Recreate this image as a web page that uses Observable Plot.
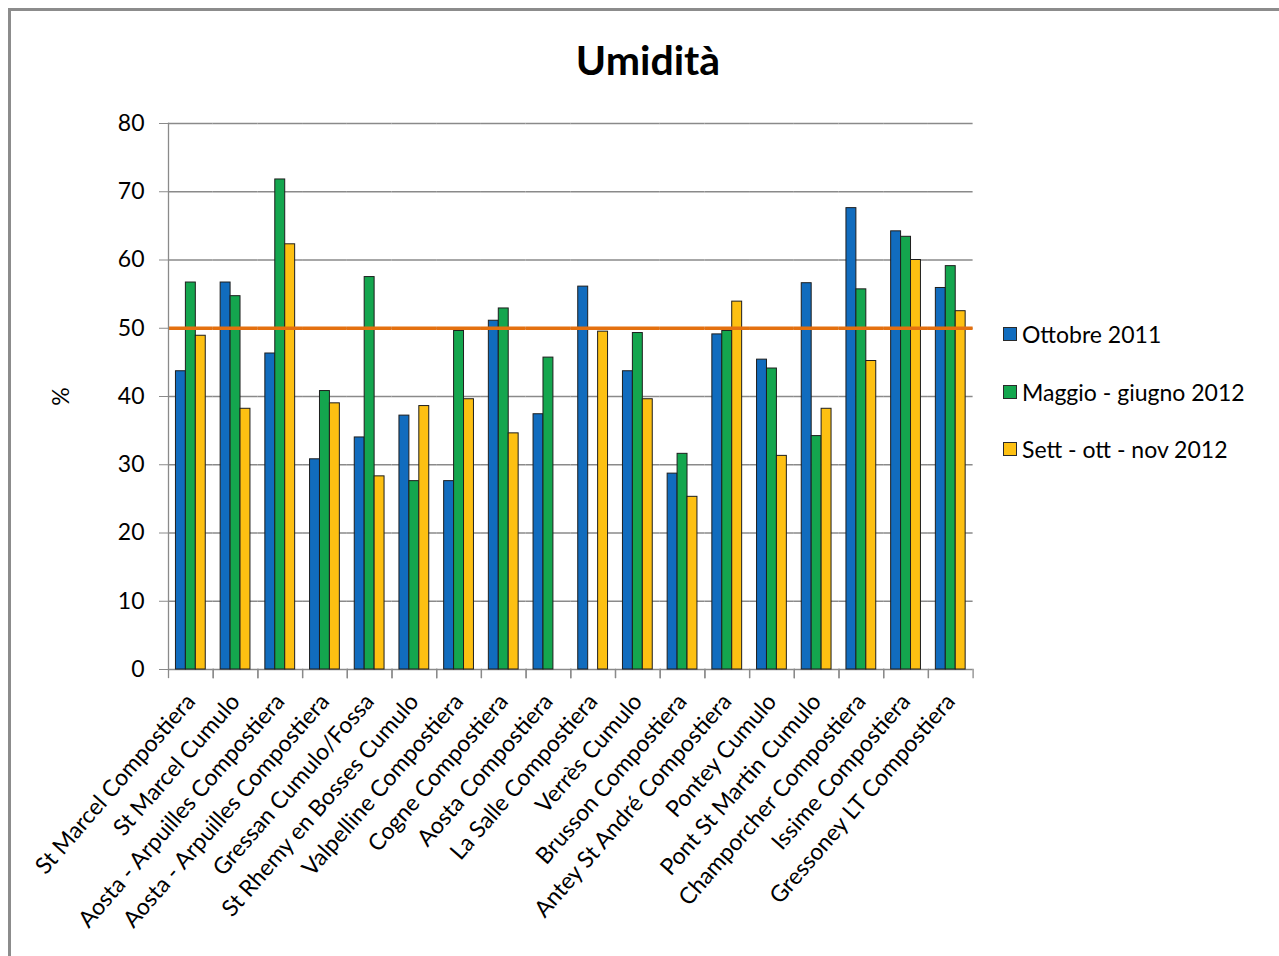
<!DOCTYPE html>
<html>
<head>
<meta charset="utf-8">
<script src="https://cdn.jsdelivr.net/npm/d3@7"></script>
<script src="https://cdn.jsdelivr.net/npm/@observablehq/plot@0.6"></script>
<style>
  html, body { margin: 0; padding: 0; overflow: hidden; background: #fff; }
  #page { position: relative; width: 1279px; height: 956px; overflow: hidden; font-family: Lato, "Open Sans", sans-serif; color: #000; }
  #border { position: absolute; left: 8px; top: 8px; width: 2000px; height: 2000px; border-left: 3px solid #8c8c8c; border-top: 3px solid #8c8c8c; }
  #title { position: absolute; left: 448px; width: 400px; top: 36px; text-align: center; font-weight: 700; font-size: 41px; line-height: 48px; }
  #chart { position: absolute; left: 0; top: 100px; }
  .item { position: absolute; left: 1003px; display: flex; align-items: center; font-size: 23px; line-height: 28px; white-space: nowrap; }
  .sw { width: 14px; height: 14px; border: 1px solid #2a2a2a; box-sizing: border-box; margin-right: 5px; }
</style>
</head>
<body>
<div id="page">
  <div id="border"></div>
  <div id="title">Umidità</div>
  <div id="chart"></div>
  <div id="legend"></div>
</div>
<script>
const categories = [
  "St Marcel Compostiera",
  "St Marcel Cumulo",
  "Aosta - Arpuilles Compostiera",
  "Aosta - Arpuilles Compostiera ",
  "Gressan Cumulo/Fossa",
  "St Rhemy en Bosses Cumulo",
  "Valpelline Compostiera",
  "Cogne Compostiera",
  "Aosta Compostiera",
  "La Salle Compostiera",
  "Verrès Cumulo",
  "Brusson Compostiera",
  "Antey St André Compostiera",
  "Pontey Cumulo",
  "Pont St Martin Cumulo",
  "Champorcher Compostiera",
  "Issime Compostiera",
  "Gressoney LT Compostiera"
];
const series = ["Ottobre 2011", "Maggio - giugno 2012", "Sett - ott - nov 2012"];
const ottobre2011      = [43.7, 56.7, 46.3, 30.8, 34.0, 37.2, 27.6, 51.1, 37.4, 56.1, 43.7, 28.7, 49.1, 45.4, 56.6, 67.6, 64.2, 55.9];
const maggioGiugno2012 = [56.7, 54.7, 71.8, 40.8, 57.5, 27.6, 49.6, 52.9, 45.7, null, 49.3, 31.6, 49.6, 44.1, 34.2, 55.7, 63.4, 59.1];
const settOttNov2012   = [48.9, 38.2, 62.3, 39.0, 28.3, 38.6, 39.6, 34.6, null, 49.5, 39.6, 25.3, 53.9, 31.3, 38.2, 45.2, 60.0, 52.5];
const yTicks = [0, 10, 20, 30, 40, 50, 60, 70, 80];
const threshold = 50;
const colors = ["#116CBE", "#14A64E", "#FDC012"];

const seriesValues = [ottobre2011, maggioGiugno2012, settOttNov2012];
const rows = [];
categories.forEach((c, i) => {
  series.forEach((s, k) => rows.push({category: c, series: s, value: seriesValues[k][i]}));
});

const GRID = "#8a8a8a";
const W = 1279, H = 856, mt = 23, mb = 287, ml = 168, mr = 306.4;
const plotH = H - mt - mb;

const chart = Plot.plot({
  width: W,
  height: H,
  marginTop: mt,
  marginBottom: mb,
  marginLeft: ml,
  marginRight: mr,
  style: {fontFamily: "Lato, 'Open Sans', sans-serif", color: "#000", background: "transparent", overflow: "visible"},
  fx: {domain: categories, padding: 0, round: false, label: null},
  x: {domain: series, paddingInner: 0, paddingOuter: 0.75, round: false, axis: null},
  y: {domain: [0, 80]},
  color: {domain: series, range: colors},
  marks: [
    Plot.ruleY(yTicks, {stroke: GRID, strokeWidth: 1.3}),
    Plot.barY(rows, {fx: "category", x: "series", y: "value", fill: "series", stroke: "#1e1e1e", strokeWidth: 1}),
    Plot.ruleY([threshold], {stroke: "#E4700F", strokeWidth: 3.5}),
    Plot.frame({anchor: "left", facet: "super", stroke: GRID, strokeWidth: 1.3}),
    Plot.frame({anchor: "left", insetTop: plotH, insetBottom: -8, stroke: GRID, strokeWidth: 1.3}),
    Plot.frame({anchor: "right", insetTop: plotH, insetBottom: -8, stroke: GRID, strokeWidth: 1.3}),
    Plot.axisY({
      ticks: yTicks, tickSize: 9, tickPadding: 15, stroke: GRID, fontSize: 23,
      label: "%", labelAnchor: "center", labelArrow: "none", labelOffset: 116
    }),
    Plot.axisFx({
      anchor: "bottom", tickSize: 0, tickRotate: -49, tickPadding: 28, fontSize: 23, label: null,
      tickFormat: d => d.trim()
    })
  ]
});
document.getElementById("chart").appendChild(chart);

const legend = document.getElementById("legend");
series.forEach((s, k) => {
  const item = document.createElement("div");
  item.className = "item";
  item.style.top = (320 + k * 57.5) + "px";
  const sw = document.createElement("div");
  sw.className = "sw";
  sw.style.background = colors[k];
  const label = document.createElement("span");
  label.textContent = s;
  item.appendChild(sw);
  item.appendChild(label);
  legend.appendChild(item);
});
</script>
</body>
</html>
